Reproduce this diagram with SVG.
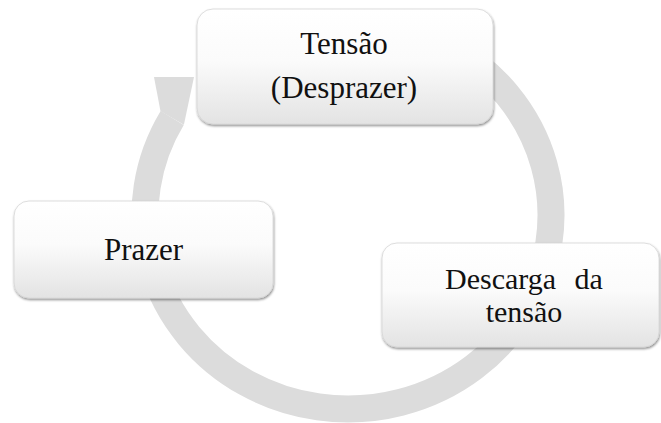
<svg xmlns="http://www.w3.org/2000/svg" width="661" height="423" viewBox="0 0 661 423">
  <defs>
    <linearGradient id="boxFill" x1="0" y1="0" x2="0" y2="1">
      <stop offset="0" stop-color="#ffffff"/>
      <stop offset="0.45" stop-color="#fbfbfb"/>
      <stop offset="1" stop-color="#e3e3e3"/>
    </linearGradient>
    <filter id="shadow" x="-10%" y="-10%" width="120%" height="130%">
      <feDropShadow dx="0.6" dy="1.6" stdDeviation="1" flood-color="#000000" flood-opacity="0.45"/>
    </filter>
  </defs>
  <style>
    .box { fill: url(#boxFill); stroke: #d6d6d6; stroke-width: 0.8; filter: url(#shadow); }
    .lbl { font-family: "Liberation Serif", "Times New Roman", serif; font-size: 31px; fill: #111111; text-anchor: middle; }
    .sm { font-size: 30px; }
    .ring { fill: none; stroke: #dcdcdc; stroke-width: 27; }
    .head { fill: #dcdcdc; stroke: none; }
  </style>
  <rect width="661" height="423" fill="#ffffff"/>
  <g id="connectors">
    <path class="ring" d="M 449.5 47 A 203 194 0 1 1 172.2 118"/>
    <polygon class="head" points="160.5,111.3 154,77 194,77 183.9,124.8"/>
  </g>
  <g id="node-tensao">
    <rect class="box" x="197" y="9" width="296" height="115" rx="16" ry="16"/>
    <text class="lbl" x="344" y="54">Tensão</text>
    <text class="lbl" x="344" y="98">(Desprazer)</text>
  </g>
  <g id="node-prazer">
    <rect class="box" x="14" y="201" width="259" height="97" rx="15" ry="15"/>
    <text class="lbl" x="143.5" y="260">Prazer</text>
  </g>
  <g id="node-descarga">
    <rect class="box" x="382" y="243" width="277" height="104" rx="15" ry="15"/>
    <text class="lbl sm" x="524" y="289" word-spacing="11">Descarga da</text>
    <text class="lbl sm" x="524" y="322">tensão</text>
  </g>
</svg>
